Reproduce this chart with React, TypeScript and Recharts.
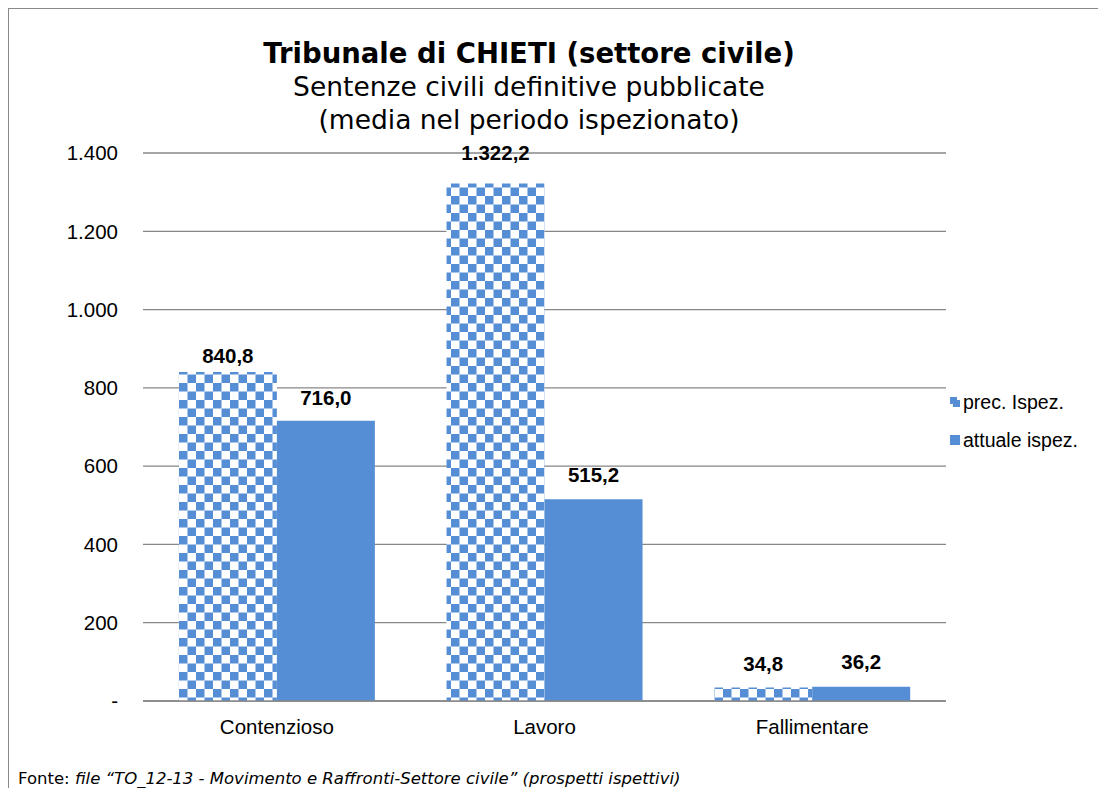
import React from "react";
import { BarChart, Bar, XAxis, YAxis, CartesianGrid, Legend, LabelList } from "recharts";

const categories = ["Contenzioso", "Lavoro", "Fallimentare"];
const precIspez = [840.8, 1322.2, 34.8];
const attualeIspez = [716.0, 515.2, 36.2];
const yTicks = [0, 200, 400, 600, 800, 1000, 1200, 1400];
const seriesNames = ["prec. Ispez.", "attuale ispez."];

// label gap above each bar (style only)
const precLabelGap = [9, 23, 16];
const attualeLabelGap = [16, 17, 18];

const data = categories.map((c, i) => ({ name: c, prec: precIspez[i], attuale: attualeIspez[i] }));

const BLUE = "#558ED5";
const GRID = "#878787";
const ARIAL = "'Liberation Sans', Arial, sans-serif";
const VERDANA = "'DejaVu Sans', Verdana, sans-serif";

const groupInt = (n: number) => {
  const s = Math.floor(Math.abs(n)).toString();
  return s.replace(/\B(?=(\d{3})+(?!\d))/g, ".");
};
const fmtTick = (v: number) => (v === 0 ? "-" : groupInt(v));
const fmtLabel = (v: any) => {
  const n = Number(v);
  const [ip, dp] = n.toFixed(1).split(".");
  return groupInt(Number(ip)) + "," + dp;
};

const makeLabel = (gaps: number[]) => (props: any) => {
  const { x, y, width, value, index } = props;
  const g = gaps[index] ?? 9;
  return (
    <text
      x={Number(x) + Number(width) / 2}
      y={Number(y) - g}
      textAnchor="middle"
      fill="#000"
      fontSize={20.5}
      fontWeight="bold"
      fontFamily={ARIAL}
    >
      {fmtLabel(value)}
    </text>
  );
};

const LegendContent = () => (
  <div style={{ fontFamily: ARIAL, fontSize: 19.5, color: "#000", paddingLeft: 4 }}>
    {seriesNames.map((n, i) => (
      <div key={n} style={{ height: 38, display: "flex", alignItems: "center" }}>
        <svg width={10} height={10} style={{ marginRight: 3 }}>
          {i === 0 ? (
            <g>
              <rect x={0} y={0} width={10} height={10} fill={BLUE} />
              <rect x={7} y={0} width={3} height={3} fill="#fff" />
              <rect x={0} y={7} width={3} height={3} fill="#fff" />
            </g>
          ) : (
            <rect x={0} y={0} width={10} height={10} fill={BLUE} />
          )}
        </svg>
        <span>{n}</span>
      </div>
    ))}
  </div>
);

export default function App() {
  return (
    <div
      style={{
        position: "relative",
        width: 1090,
        height: 780,
        boxSizing: "border-box",
        borderTop: "1px solid #898989",
        borderLeft: "1px solid #898989",
        background: "#fff",
      }}
    >
      <div style={{ position: "absolute", left: 120, top: 27, width: 800, textAlign: "center", fontFamily: VERDANA, color: "#000" }}>
        <div style={{ fontSize: 27.5, fontWeight: "bold", lineHeight: "34px" }}>Tribunale di CHIETI (settore civile)</div>
        <div style={{ fontSize: 26.5, lineHeight: "34px" }}>Sentenze civili definitive pubblicate</div>
        <div style={{ fontSize: 26.5, lineHeight: "32px" }}>(media nel periodo ispezionato)</div>
      </div>
      <div style={{ position: "absolute", left: 0, top: 0 }}>
        <BarChart
          width={1089}
          height={779}
          data={data}
          margin={{ top: 144, right: 12, bottom: 47, left: 0 }}
          barCategoryGap="13.4%"
          barGap={0}
        >
          <defs>
            <pattern id="checker" patternUnits="userSpaceOnUse" width={17} height={17}>
              <rect x={0} y={0} width={17} height={17} fill="#fff" />
              <rect x={0} y={0} width={8.5} height={8.5} fill={BLUE} />
              <rect x={8.5} y={8.5} width={8.5} height={8.5} fill={BLUE} />
            </pattern>
          </defs>
          <CartesianGrid vertical={false} stroke={GRID} strokeWidth={1.3} />
          <XAxis
            dataKey="name"
            tickLine={false}
            axisLine={{ stroke: GRID, strokeWidth: 1.3 }}
            tickSize={0}
            tickMargin={18}
            height={40}
            tick={{ fill: "#000", fontSize: 20.5, fontFamily: ARIAL }}
          />
          <YAxis
            domain={[0, 1400]}
            ticks={yTicks}
            tickFormatter={fmtTick}
            tickLine={false}
            axisLine={false}
            tickSize={0}
            tickMargin={25}
            width={134}
            tick={{ fill: "#000", fontSize: 20.5, fontFamily: ARIAL }}
          />
          <Legend
            layout="vertical"
            align="right"
            verticalAlign="middle"
            width={140}
            wrapperStyle={{ top: 374 }}
            content={<LegendContent />}
          />
          <Bar dataKey="prec" name={seriesNames[0]} fill="url(#checker)" isAnimationActive={false}>
            <LabelList dataKey="prec" content={makeLabel(precLabelGap)} />
          </Bar>
          <Bar dataKey="attuale" name={seriesNames[1]} fill={BLUE} isAnimationActive={false}>
            <LabelList dataKey="attuale" content={makeLabel(attualeLabelGap)} />
          </Bar>
        </BarChart>
      </div>
      <div style={{ position: "absolute", left: 9, top: 760, fontFamily: VERDANA, fontSize: 16.5, lineHeight: "20px", color: "#000", whiteSpace: "nowrap" }}>
        Fonte: <i>file “TO_12-13 - Movimento e Raffronti-Settore civile” (prospetti ispettivi)</i>
      </div>
    </div>
  );
}
